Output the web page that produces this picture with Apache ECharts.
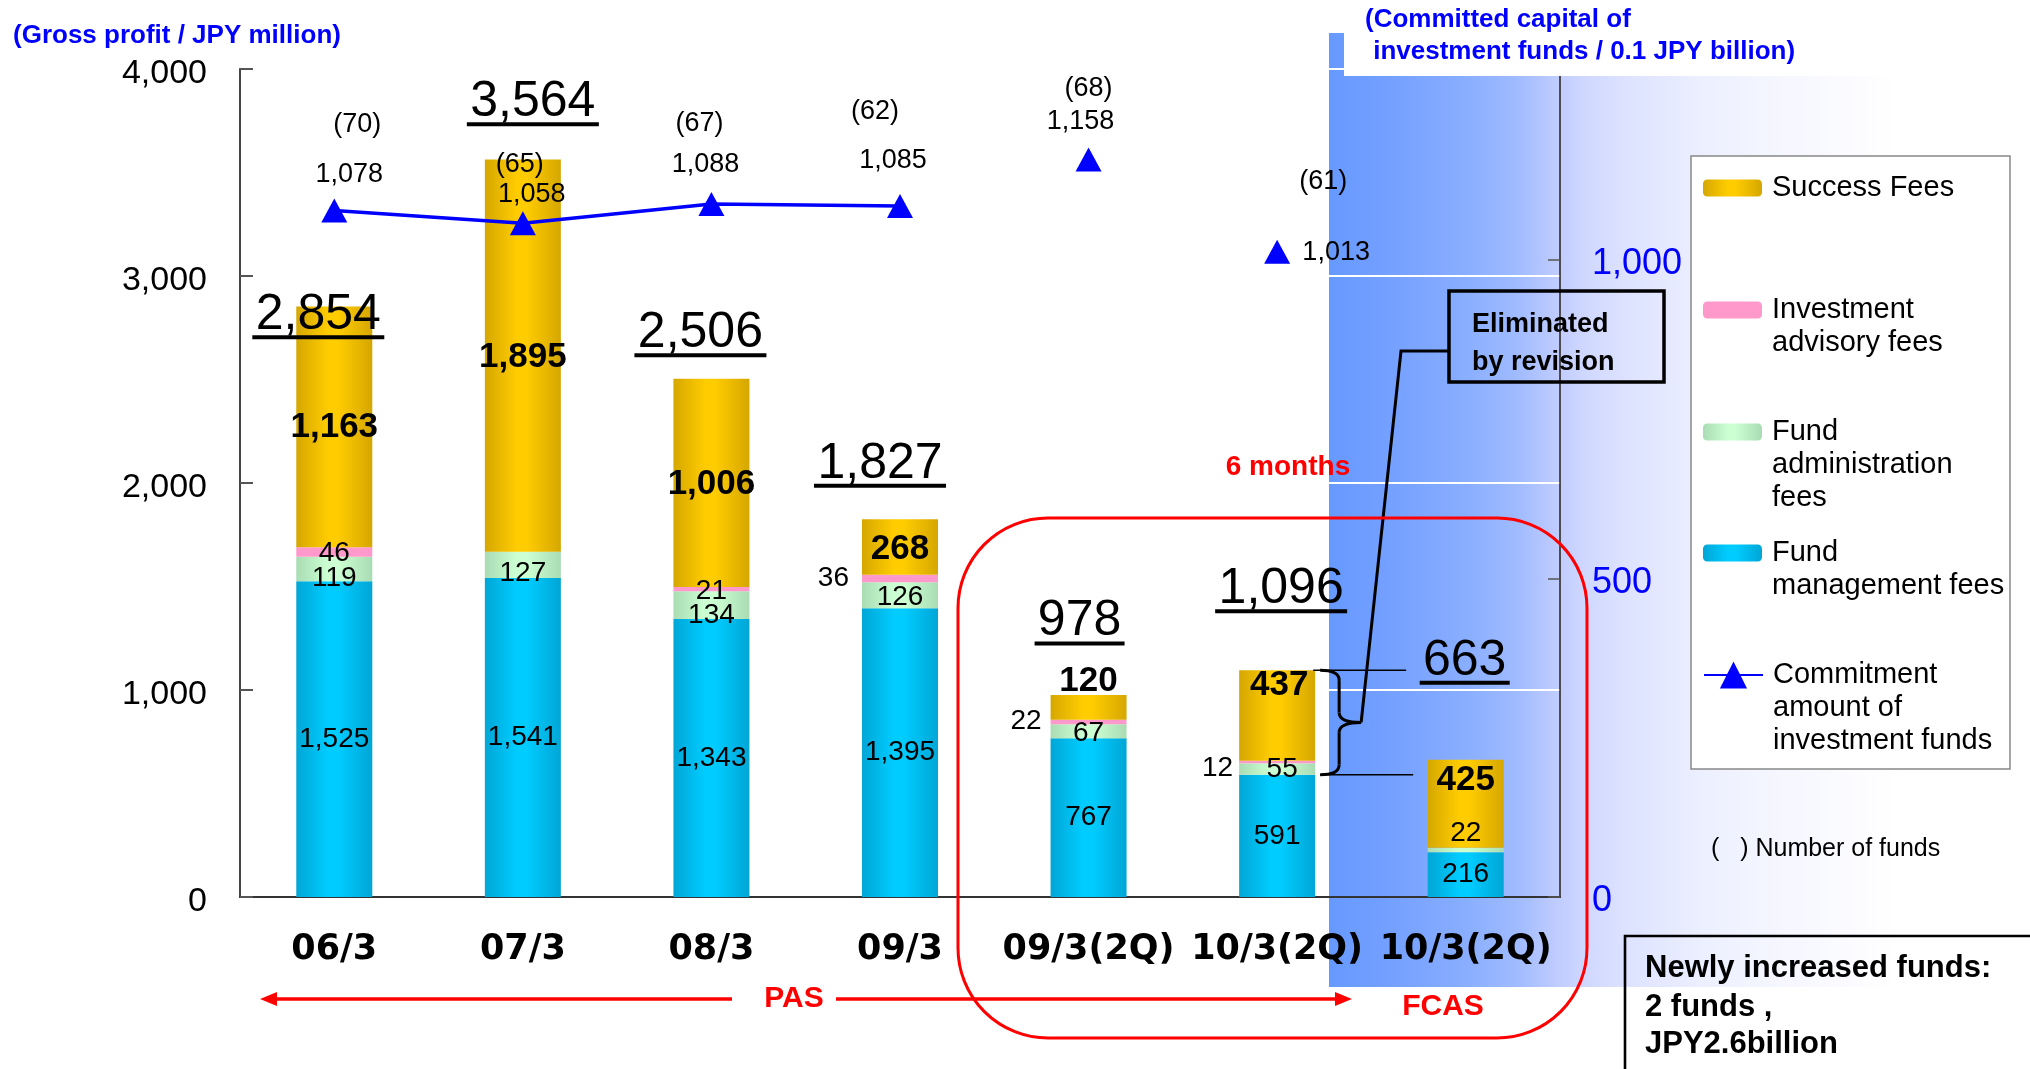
<!DOCTYPE html>
<html>
<head>
<meta charset="utf-8">
<script src="https://cdn.jsdelivr.net/npm/echarts@6/dist/echarts.min.js"></script>
<style>html,body{margin:0;padding:0;background:#fff;}#c{width:2030px;height:1069px;}</style>
</head>
<body>
<div id="c"></div>
<script>
// ---------------- DATA ----------------
const categories = ['06/3', '07/3', '08/3', '09/3', '09/3(2Q)', '10/3(2Q)', '10/3(2Q)'];
const fundManagementFees     = [1525, 1541, 1343, 1395, 767, 591, 216];
const fundAdministrationFees = [119, 127, 134, 126, 67, 55, 22];
const investmentAdvisoryFees = [46, 0, 21, 36, 22, 12, 0];
const successFees            = [1163, 1895, 1006, 268, 120, 437, 425];
const grossProfitTotals      = [2854, 3564, 2506, 1827, 978, 1096, 663];
const commitmentAmount       = [1078, 1058, 1088, 1085, 1158, 1013, null]; // 0.1 JPY billion
const numberOfFunds          = [70, 65, 67, 62, 68, 61, null];
const connectedPoints = 4;            // PAS period points joined by the line
const leftAxis  = {min: 0, max: 4000, interval: 1000};
const rightAxis = {min: 0, max: 1300, interval: 500};

// ---------------- LAYOUT (label offsets only) ----------------
const LAY = {
  admin:    [[0,9],[0,8],[0,10],[0,2],[0,2],[5,0],[0,-17]],
  advisory: [['inside',0,1],null,['inside',0,2],['left',0,0,13],['left',0,-1,9],['left',0,6,6],null],
  success:  [[0,1],[0,2],[0,2],[0,2],[0,-26],[2,-30],[0,-23]],
  totals:   [[-16,8],[10,-58],[-11,-46],[-20,-56],[-9,-74],[4,-82],[-1,-100]],
  value:    [[15,-36],[9,-29],[-6,-39],[-7,-45],[-8,-38],[59,1]],
  count:    [[23,-86],[-3,-59],[-12,-80],[-25,-94],[0,-71],[46,-70]]
};

const FONT = 'Liberation Sans, Arial, sans-serif';
const fmt = v => Number(v).toLocaleString('en-US');
const grad = (edge, mid) => new echarts.graphic.LinearGradient(0, 0, 1, 0, [
  {offset: 0, color: edge}, {offset: 0.42, color: mid}, {offset: 0.55, color: mid}, {offset: 1, color: edge}]);

const chart = echarts.init(document.getElementById('c'), null, {renderer: 'canvas', width: 2030, height: 1069});

function items(values, lay) {
  return values.map((v, i) => {
    const l = lay ? lay[i] : [0, 0];
    if (!v || !l) return {value: v, label: {show: false}};
    if (typeof l[0] === 'string') {
      return {value: v, label: {show: true, position: l[0], offset: [l[1], l[2]], distance: l[3] || 5}};
    }
    return {value: v, label: {show: true, position: 'inside', offset: [l[0], l[1]]}};
  });
}

const mctx = document.createElement('canvas').getContext('2d');
mctx.font = '50px "Liberation Sans"';

const regLabel = {show: true, fontSize: 28, color: '#000', fontFamily: FONT, formatter: p => fmt(p.value)};
const boldLabel = {show: true, fontSize: 35, fontWeight: 'bold', color: '#000', fontFamily: FONT, formatter: p => fmt(p.value)};
const hidden = {color: 'rgba(0,0,0,0)', opacity: 1};

const legendDefs = [
  {name: 'Success Fees', text: 'Success Fees', cy: 188, ih: 17},
  {name: 'Investment advisory fees', text: 'Investment\nadvisory fees', cy: 310, ih: 17},
  {name: 'Fund administration fees', text: 'Fund\nadministration\nfees', cy: 432, ih: 17},
  {name: 'Fund management fees', text: 'Fund\nmanagement fees', cy: 553, ih: 17},
  {name: 'Commitment amount of investment funds', text: 'Commitment\namount of\ninvestment funds', cy: 675, ih: 34}
];
const LH = 33;

const axisLabelRich = (size, color) => ({
  fontSize: size, color: color, fontFamily: FONT,
  formatter: v => '{a|' + fmt(v) + '}',
  rich: {a: {fontSize: size, color: color, fontFamily: FONT, padding: [9, 0, 0, 0]}}
});

const option = {
  animation: false,
  backgroundColor: '#fff',
  textStyle: {fontFamily: FONT},
  grid: {left: 240, right: 470, top: 69, bottom: 172, show: true, borderColor: '#888', borderWidth: 1.5,
         backgroundColor: 'transparent', containLabel: false, outerBoundsMode: 'none'},
  legend: legendDefs.map(d => {
    const n = d.text.split('\n').length;
    const H = (2 * n - 1) * LH;
    return {
      data: [d.name], orient: 'vertical', left: 1703, top: d.cy - Math.max(H, d.ih) / 2,
      padding: 0, itemWidth: 59, itemHeight: d.ih, selectedMode: false, z: 6,
      formatter: () => '\n'.repeat(n - 1) + d.text,
      textStyle: {fontSize: 29, lineHeight: LH, color: '#000', fontFamily: FONT, padding: [0, 0, 0, 5]}
    };
  }),
  xAxis: {
    type: 'category', data: categories,
    axisLine: {show: true, lineStyle: {color: '#333', width: 2}},
    axisTick: {show: false},
    axisLabel: {interval: 0, fontSize: 35, fontWeight: 'bold', fontFamily: 'DejaVu Sans', color: '#000', margin: 35}
  },
  yAxis: [
    {type: 'value', min: leftAxis.min, max: leftAxis.max, interval: leftAxis.interval,
     axisLine: {show: true, lineStyle: {color: '#444', width: 2}},
     axisTick: {show: true, inside: true, length: 13, lineStyle: {color: '#555', width: 2}},
     axisLabel: Object.assign({margin: 33}, axisLabelRich(34, '#000')),
     splitLine: {show: true, lineStyle: {color: '#ffffff', width: 2}}},
    {type: 'value', position: 'right', min: rightAxis.min, max: rightAxis.max, interval: rightAxis.interval,
     axisLine: {show: true, lineStyle: {color: '#333', width: 1.5}},
     axisTick: {show: true, inside: true, length: 12, lineStyle: {color: '#555', width: 1.5}},
     axisLabel: Object.assign({margin: 32, showMaxLabel: false}, axisLabelRich(36, '#0000FF')),
     splitLine: {show: false}}
  ],
  series: [
    {name: 'Fund management fees', type: 'bar', stack: 'gp', barWidth: 76,
     itemStyle: {color: grad('#00A6D6', '#00CCFF')}, label: regLabel,
     data: items(fundManagementFees, null)},
    {name: 'Fund administration fees', type: 'bar', stack: 'gp', barWidth: 76,
     itemStyle: {color: grad('#A9DCB3', '#CCFFD2')}, label: regLabel,
     data: items(fundAdministrationFees, LAY.admin)},
    {name: 'Investment advisory fees', type: 'bar', stack: 'gp', barWidth: 76,
     itemStyle: {color: '#FF99CC'}, label: regLabel,
     data: items(investmentAdvisoryFees, LAY.advisory)},
    {name: 'Success Fees', type: 'bar', stack: 'gp', barWidth: 76,
     itemStyle: {color: grad('#D5A700', '#FFCC00')}, label: boldLabel,
     data: items(successFees, LAY.success)},
    {name: 'Commitment amount of investment funds', type: 'line', yAxisIndex: 1,
     symbol: 'triangle', symbolSize: [26, 24], showSymbol: true,
     itemStyle: {color: '#0000FF', opacity: 1}, lineStyle: {color: '#0000FF', width: 3.5},
     label: {show: true, position: 'inside', fontSize: 27, color: '#000', fontFamily: FONT, formatter: p => fmt(p.value)},
     data: commitmentAmount.map((v, i) => i < connectedPoints && v != null
        ? {value: v, label: {offset: LAY.value[i]}} : '-'),
     z: 4},
    {name: 'Commitment amount of investment funds', type: 'scatter', yAxisIndex: 1,
     symbol: 'triangle', symbolSize: [26, 24], itemStyle: {color: '#0000FF', opacity: 1},
     label: {show: true, position: 'inside', fontSize: 27, color: '#000', fontFamily: FONT, formatter: p => fmt(p.value)},
     data: commitmentAmount.map((v, i) => i >= connectedPoints && v != null
        ? {value: v, label: {offset: LAY.value[i]}} : '-'),
     z: 4},
    {name: 'Number of funds', type: 'scatter', yAxisIndex: 1, symbolSize: 1, silent: true,
     itemStyle: hidden,
     label: {show: true, position: 'inside', fontSize: 27, color: '#000', fontFamily: FONT,
             formatter: p => '(' + numberOfFunds[p.dataIndex] + ')'},
     data: commitmentAmount.map((v, i) => v != null ? {value: v, label: {offset: LAY.count[i]}} : '-'),
     z: 4},
    {name: 'Gross profit total', type: 'scatter', yAxisIndex: 0, symbolSize: 1, silent: true,
     itemStyle: hidden,
     label: {show: true, position: 'inside', formatter: p => '{t|' + fmt(p.value) + '}\n{u| }'},
     data: grossProfitTotals.map((v, i) => ({
       value: v,
       label: {offset: [LAY.totals[i][0], LAY.totals[i][1] + 3],
               rich: {t: {fontSize: 50, lineHeight: 40, color: '#000', fontFamily: FONT},
                      u: {width: Math.round(mctx.measureText(fmt(v)).width) + 7, height: 4, lineHeight: 4,
                          fontSize: 1, backgroundColor: '#000'}}}
     })),
     z: 5}
  ]
};
chart.setOption(option);

// ---------------- ANNOTATIONS ----------------
const px = (i, v) => chart.convertToPixel({xAxisIndex: 0, yAxisIndex: 0}, [i, v]);
const k = 5; // 10/3(2Q) PAS bar
const topP = px(k, grossProfitTotals[k]);
const botP = px(k, fundManagementFees[k]);
const barRight = topP[0] + 38;
const yT = topP[1], yB = botP[1], yM = (yT + yB) / 2;
const bx0 = barRight + 5, bx1 = barRight + 24, btip = barRight + 46, r = 10;

const blueGrad = new echarts.graphic.LinearGradient(0, 0, 1, 0, [
  {offset: 0, color: '#6699FF'}, {offset: 0.12, color: '#76A1FF'}, {offset: 0.24, color: '#89AEFF'},
  {offset: 0.33, color: '#A0BBFF'}, {offset: 0.40, color: '#C0CCFF'}, {offset: 0.45, color: '#D0D8FF'},
  {offset: 0.52, color: '#DDE2FF'}, {offset: 0.65, color: '#ECEFFF'}, {offset: 0.8, color: '#F6F7FF'},
  {offset: 1, color: '#FFFFFF'}]);

const txt = (text, x, y, font, fill, align, z) => ({
  type: 'text', z: z || 8, silent: true,
  style: {text: text, x: x, y: y, font: font, fill: fill || '#000', align: align || 'left', verticalAlign: 'middle'}
});
const seg = (x1, y1, x2, y2, w, c) => ({type: 'line', z: 8, silent: true,
  shape: {x1: x1, y1: y1, x2: x2, y2: y2}, style: {stroke: c || '#000', lineWidth: w}});
const curve = (x1, y1, cx, cy, x2, y2) => ({type: 'bezierCurve', z: 8, silent: true,
  shape: {x1: x1, y1: y1, cpx1: cx, cpy1: cy, x2: x2, y2: y2}, style: {fill: 'none', stroke: '#000', lineWidth: 3}});
const RED = '#FF0000';

chart.setOption({
  graphic: [
    {type: 'rect', z: -10, silent: true, shape: {x: 1329, y: 33, width: 571, height: 954}, style: {fill: blueGrad}},
    {type: 'rect', z: 5, silent: true, shape: {x: 1344, y: 0, width: 686, height: 76}, style: {fill: '#fff'}},
    txt('(Gross profit / JPY million)', 13, 36, 'bold 26px "Liberation Sans"', '#0000FF'),
    txt('(Committed capital of', 1365, 20, 'bold 26px "Liberation Sans"', '#0000FF'),
    txt(' investment funds / 0.1 JPY billion)', 1366, 52, 'bold 26px "Liberation Sans"', '#0000FF'),
    {type: 'rect', z: 3, silent: true, shape: {x: 1691, y: 156, width: 319, height: 613},
     style: {fill: '#fff', stroke: '#888', lineWidth: 1.5}},
    txt('(   ) Number of funds', 1711, 849, '25px "Liberation Sans"', '#000'),
    {type: 'rect', z: 3, silent: true, shape: {x: 1625, y: 936, width: 500, height: 200},
     style: {fill: 'none', stroke: '#000', lineWidth: 2.6}},
    txt('Newly increased funds:', 1645, 968, 'bold 31px "Liberation Sans"', '#000'),
    txt('2 funds ,', 1645, 1007, 'bold 31px "Liberation Sans"', '#000'),
    txt('JPY2.6billion', 1645, 1044, 'bold 31px "Liberation Sans"', '#000'),
    // red rounded frame
    {type: 'rect', z: 9, silent: true, shape: {x: 958, y: 518, width: 629, height: 520, r: 90},
     style: {fill: 'none', stroke: RED, lineWidth: 3}},
    txt('6 months', 1288, 467, 'bold 28px "Liberation Sans"', RED, 'center'),
    // PAS / FCAS arrow
    seg(274, 999, 732, 999, 3.5, RED),
    {type: 'polygon', z: 9, silent: true, shape: {points: [[260, 999], [277, 992], [277, 1006]]}, style: {fill: RED}},
    seg(836, 999, 1338, 999, 3.5, RED),
    {type: 'polygon', z: 9, silent: true, shape: {points: [[1352, 999], [1335, 992], [1335, 1006]]}, style: {fill: RED}},
    txt('PAS', 794, 999, 'bold 30px "Liberation Sans"', RED, 'center'),
    txt('FCAS', 1443, 1007, 'bold 30px "Liberation Sans"', RED, 'center'),
    // revision annotation
    {type: 'rect', z: 8, silent: true, shape: {x: 1449, y: 291, width: 215, height: 91},
     style: {fill: 'none', stroke: '#000', lineWidth: 3.5}},
    txt('Eliminated', 1472, 325, 'bold 27px "Liberation Sans"', '#000'),
    txt('by revision', 1472, 363, 'bold 27px "Liberation Sans"', '#000'),
    {type: 'polyline', z: 8, silent: true, shape: {points: [[btip, yM], [1401, 351], [1449, 351]]},
     style: {fill: 'none', stroke: '#000', lineWidth: 3}},
    // curly brace spanning 591 .. 1,096
    curve(bx0, yT, bx1, yT, bx1, yT + r),
    seg(bx1, yT + r, bx1, yM - r, 3),
    curve(bx1, yM - r, bx1, yM, btip, yM),
    curve(btip, yM, bx1, yM, bx1, yM + r),
    seg(bx1, yM + r, bx1, yB - r, 3),
    curve(bx1, yB - r, bx1, yB, bx0, yB),
    seg(barRight - 2, yT, barRight + 91, yT, 1.5),
    seg(barRight + 5, yB, barRight + 98, yB, 1.5)
  ]
});
</script>
</body>
</html>
